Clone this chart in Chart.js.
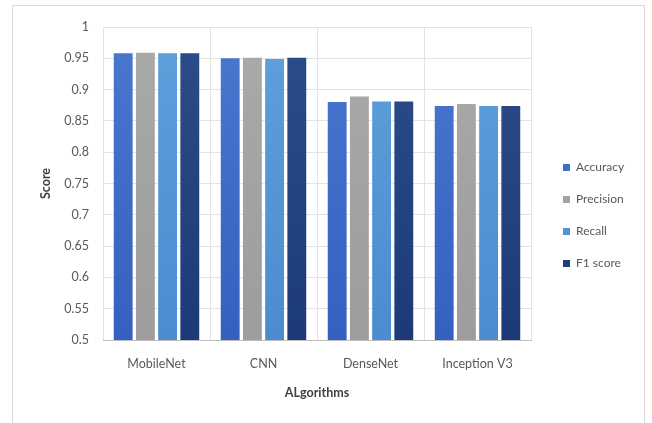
<!DOCTYPE html>
<html>
<head>
<meta charset="utf-8">
<script src="https://cdn.jsdelivr.net/npm/chart.js@4/dist/chart.umd.min.js"></script>
<style>
  html, body { margin: 0; padding: 0; background: #ffffff; }
  #frame { position: absolute; left: 12px; top: 5px; width: 633px; height: 420px;
           border: 1px solid #d9d9d9; box-sizing: border-box; }
  #wrap { position: absolute; left: 0; top: 0; width: 652px; height: 423px; }
</style>
</head>
<body>
<div id="frame"></div>
<div id="wrap"><canvas id="c" width="652" height="423"></canvas></div>
<script>
// Model names on the x axis
const algorithms = ['MobileNet', 'CNN', 'DenseNet', 'Inception V3'];

// Metric scores per model
const accuracy  = [0.958, 0.950, 0.880, 0.874];
const precision = [0.959, 0.951, 0.889, 0.877];
const recall    = [0.958, 0.949, 0.881, 0.874];
const f1Score   = [0.958, 0.951, 0.881, 0.874];

// Score axis labels, bottom to top
const scoreTicks = ['0.5', '0.55', '0.6', '0.65', '0.7', '0.75', '0.8', '0.85', '0.9', '0.95', '1'];

const FONT = 'Lato, "Liberation Sans", sans-serif';

function shaded(top, bottom) {
  return (ctx) => {
    const area = ctx.chart.chartArea;
    if (!area) return bottom;
    const g = ctx.chart.ctx.createLinearGradient(0, area.top, 0, area.bottom);
    g.addColorStop(0, top);
    g.addColorStop(1, bottom);
    return g;
  };
}

// Fixed legend column width, with the entries nudged right of the plot
const legendPlacement = {
  id: 'legendPlacement',
  beforeLayout(chart) {
    const lg = chart.legend;
    if (lg && !lg._fixed) {
      const fit = lg.fit;
      lg.fit = function () { fit.call(this); this.width = 109; };
      lg._fixed = true;
    }
  },
  afterLayout(chart) {
    const lg = chart.legend;
    if (lg) { lg.left += 12; lg.right += 12; }
  }
};

new Chart(document.getElementById('c'), {
  type: 'bar',
  data: {
    labels: algorithms,
    datasets: [
      { label: 'Accuracy',  data: accuracy,  backgroundColor: shaded('#4a78cf', '#3560c0') },
      { label: 'Precision', data: precision, backgroundColor: shaded('#aaaaaa', '#9e9c9c') },
      { label: 'Recall',    data: recall,    backgroundColor: shaded('#5fa0dc', '#4a8ccf') },
      { label: 'F1 score',  data: f1Score,   backgroundColor: shaded('#2c4d8a', '#1c3a78') }
    ]
  },
  options: {
    responsive: false,
    animation: false,
    layout: { padding: { left: 12, right: 12, top: 27, bottom: 19 } },
    datasets: { bar: { categoryPercentage: 0.83, barPercentage: 0.85 } },
    plugins: {
      legend: {
        position: 'right',
        align: 'center',
        labels: {
          boxWidth: 7, boxHeight: 7, padding: 20,
          color: '#595959',
          font: { family: FONT, size: 12 }
        }
      },
      tooltip: { enabled: false }
    },
    scales: {
      x: {
        afterFit(scale) { scale.height = 64; },
        grid: { offset: true, color: '#e3e3e3', drawTicks: false },
        border: { color: '#bfbfbf' },
        ticks: { color: '#595959', padding: 16, font: { family: FONT, size: 12.5 } },
        title: { display: true, text: 'ALgorithms', color: '#404040',
                 font: { family: FONT, size: 12.5, weight: 'bold' }, padding: { top: 0 } }
      },
      y: {
        min: 0.5, max: 1,
        afterFit(scale) { scale.width = 91; },
        grid: { color: '#e3e3e3', drawTicks: false },
        border: { display: false },
        ticks: {
          stepSize: 0.05, padding: 14, color: '#595959',
          font: { family: FONT, size: 12.5 },
          callback: (v, i) => scoreTicks[i]
        },
        title: { display: true, text: 'Score', color: '#404040',
                 font: { family: FONT, size: 12.5, weight: 'bold' }, padding: { top: 26 } }
      }
    }
  },
  plugins: [legendPlacement]
});
</script>
</body>
</html>
